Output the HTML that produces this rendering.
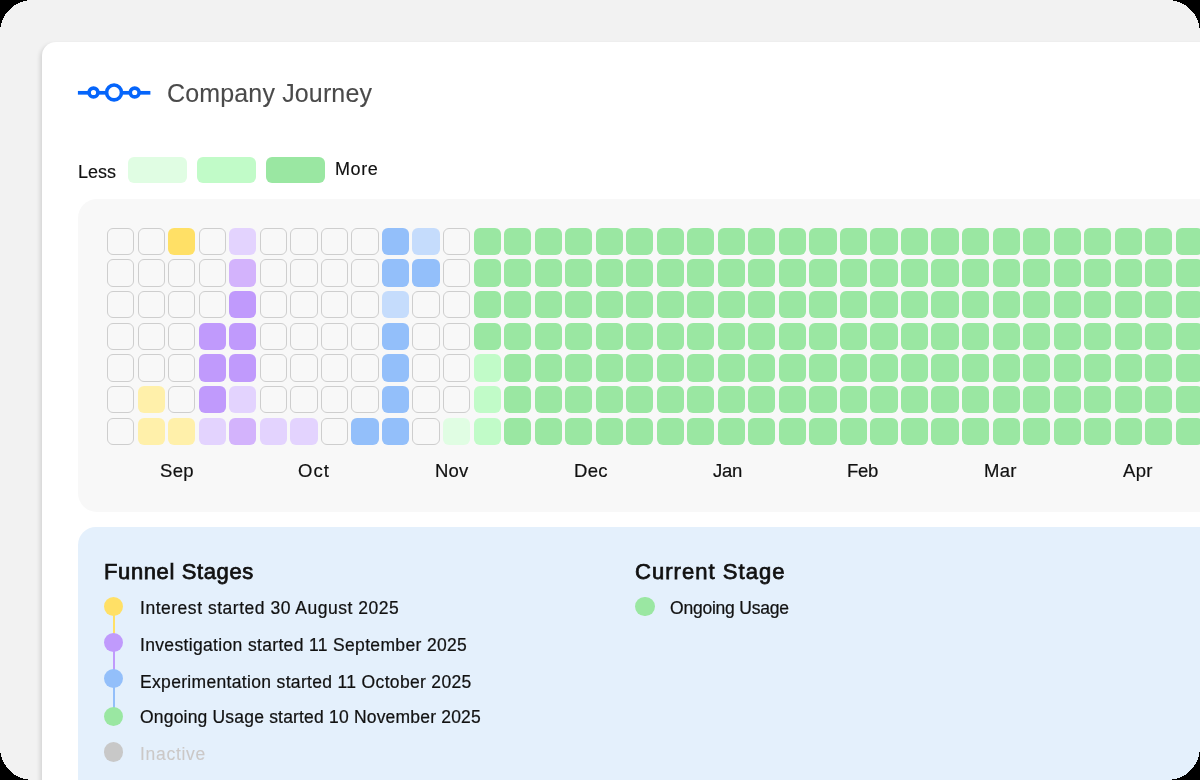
<!DOCTYPE html>
<html><head><meta charset="utf-8">
<style>
html,body{margin:0;padding:0;background:#000;}
body{width:1200px;height:780px;overflow:hidden;font-family:"Liberation Sans",sans-serif;-webkit-font-smoothing:antialiased;}
.title,.less,.more,.mon,.h,.t{will-change:transform;}
.frame{position:absolute;left:0;top:0;width:1200px;height:780px;overflow:hidden;background:#f2f2f2;}
.corners{position:absolute;left:0;top:0;z-index:10;}
.card{position:absolute;left:42px;top:42px;width:1300px;height:900px;background:#fff;border-radius:14px;box-shadow:-2px 2px 4px rgba(0,0,0,0.13);}
.logo{position:absolute;left:76px;top:80px;}
.title{position:absolute;left:166.5px;top:77.8px;font-size:25px;color:#4a4a4a;white-space:nowrap;line-height:30px;letter-spacing:0.15px;-webkit-text-stroke:0.1px #4a4a4a;}
.less,.more{position:absolute;font-size:18px;color:#111;line-height:22px;white-space:nowrap;-webkit-text-stroke:0.15px #111;}
.less{left:78px;top:161px;}
.more{left:335px;top:158px;letter-spacing:0.6px;}
.sw{position:absolute;top:157px;width:59px;height:26px;border-radius:6px;}
.grid{position:absolute;left:78px;top:199px;width:1200px;height:312.5px;background:#f8f8f8;border-radius:19px;}
.c{position:absolute;width:27.2px;height:27.2px;border-radius:6px;box-sizing:border-box;}
.c.e{border:1.8px solid #cecece;background:#f8f8f8;}
.y{background:#ffe066;} .yl{background:#fff0aa;}
.pl{background:#e3d3fe;} .pm{background:#d3b3fc;} .pd{background:#c09afc;}
.b{background:#93bffa;} .bl{background:#c5dcfc;}
.g{background:#9ae7a2;} .gl{background:#c1fbc8;} .gll{background:#e0fde3;}
.mon{position:absolute;top:260.6px;font-size:18.5px;color:#111;line-height:22px;white-space:nowrap;letter-spacing:0.3px;-webkit-text-stroke:0.2px #111;}
.panel{position:absolute;left:78px;top:527px;width:1200px;height:400px;background:#e4f0fc;border-radius:18px;}
.h{position:absolute;font-size:22px;color:#111;white-space:nowrap;line-height:26px;letter-spacing:0.5px;-webkit-text-stroke:0.75px #111;}
.dot{position:absolute;width:19.4px;height:19.4px;border-radius:50%;}
.ln{position:absolute;width:2px;}
.t{position:absolute;font-size:17.5px;color:#111;white-space:nowrap;line-height:22px;-webkit-text-stroke:0.22px #111;}
</style></head><body>
<div class="frame">
<div class="card"></div>
<svg class="logo" width="80" height="26" viewBox="0 0 80 26">
 <g fill="none" stroke="#0565fb">
  <g stroke-width="3.7">
  <line x1="1.9" y1="12.8" x2="13.5" y2="12.8"/>
  <line x1="21.5" y1="12.8" x2="31" y2="12.8"/>
  <line x1="45" y1="12.8" x2="54.5" y2="12.8"/>
  <line x1="62.7" y1="12.8" x2="74.4" y2="12.8"/>
  </g>
  <circle cx="17.5" cy="12.5" r="4.4" stroke-width="3.6"/>
  <circle cx="38.05" cy="12.45" r="7.45" stroke-width="3.6"/>
  <circle cx="58.7" cy="12.5" r="4.4" stroke-width="3.6"/>
 </g>
</svg>
<div class="title">Company Journey</div>
<div class="less">Less</div>
<div class="sw" style="left:128px;background:#e0fde3"></div>
<div class="sw" style="left:197px;background:#c1fbc8"></div>
<div class="sw" style="left:266px;background:#9ae7a2"></div>
<div class="more">More</div>
<div class="grid">
<i class="c e" style="left:29.15px;top:28.70px"></i>
<i class="c e" style="left:59.68px;top:28.70px"></i>
<i class="c y" style="left:90.21px;top:28.70px"></i>
<i class="c e" style="left:120.74px;top:28.70px"></i>
<i class="c pl" style="left:151.27px;top:28.70px"></i>
<i class="c e" style="left:181.80px;top:28.70px"></i>
<i class="c e" style="left:212.33px;top:28.70px"></i>
<i class="c e" style="left:242.86px;top:28.70px"></i>
<i class="c e" style="left:273.39px;top:28.70px"></i>
<i class="c b" style="left:303.92px;top:28.70px"></i>
<i class="c bl" style="left:334.45px;top:28.70px"></i>
<i class="c e" style="left:364.98px;top:28.70px"></i>
<i class="c g" style="left:395.51px;top:28.70px"></i>
<i class="c g" style="left:426.04px;top:28.70px"></i>
<i class="c g" style="left:456.57px;top:28.70px"></i>
<i class="c g" style="left:487.10px;top:28.70px"></i>
<i class="c g" style="left:517.63px;top:28.70px"></i>
<i class="c g" style="left:548.16px;top:28.70px"></i>
<i class="c g" style="left:578.69px;top:28.70px"></i>
<i class="c g" style="left:609.22px;top:28.70px"></i>
<i class="c g" style="left:639.75px;top:28.70px"></i>
<i class="c g" style="left:670.28px;top:28.70px"></i>
<i class="c g" style="left:700.81px;top:28.70px"></i>
<i class="c g" style="left:731.34px;top:28.70px"></i>
<i class="c g" style="left:761.87px;top:28.70px"></i>
<i class="c g" style="left:792.40px;top:28.70px"></i>
<i class="c g" style="left:822.93px;top:28.70px"></i>
<i class="c g" style="left:853.46px;top:28.70px"></i>
<i class="c g" style="left:883.99px;top:28.70px"></i>
<i class="c g" style="left:914.52px;top:28.70px"></i>
<i class="c g" style="left:945.05px;top:28.70px"></i>
<i class="c g" style="left:975.58px;top:28.70px"></i>
<i class="c g" style="left:1006.11px;top:28.70px"></i>
<i class="c g" style="left:1036.64px;top:28.70px"></i>
<i class="c g" style="left:1067.17px;top:28.70px"></i>
<i class="c g" style="left:1097.70px;top:28.70px"></i>
<i class="c g" style="left:1128.23px;top:28.70px"></i>
<i class="c e" style="left:29.15px;top:60.37px"></i>
<i class="c e" style="left:59.68px;top:60.37px"></i>
<i class="c e" style="left:90.21px;top:60.37px"></i>
<i class="c e" style="left:120.74px;top:60.37px"></i>
<i class="c pm" style="left:151.27px;top:60.37px"></i>
<i class="c e" style="left:181.80px;top:60.37px"></i>
<i class="c e" style="left:212.33px;top:60.37px"></i>
<i class="c e" style="left:242.86px;top:60.37px"></i>
<i class="c e" style="left:273.39px;top:60.37px"></i>
<i class="c b" style="left:303.92px;top:60.37px"></i>
<i class="c b" style="left:334.45px;top:60.37px"></i>
<i class="c e" style="left:364.98px;top:60.37px"></i>
<i class="c g" style="left:395.51px;top:60.37px"></i>
<i class="c g" style="left:426.04px;top:60.37px"></i>
<i class="c g" style="left:456.57px;top:60.37px"></i>
<i class="c g" style="left:487.10px;top:60.37px"></i>
<i class="c g" style="left:517.63px;top:60.37px"></i>
<i class="c g" style="left:548.16px;top:60.37px"></i>
<i class="c g" style="left:578.69px;top:60.37px"></i>
<i class="c g" style="left:609.22px;top:60.37px"></i>
<i class="c g" style="left:639.75px;top:60.37px"></i>
<i class="c g" style="left:670.28px;top:60.37px"></i>
<i class="c g" style="left:700.81px;top:60.37px"></i>
<i class="c g" style="left:731.34px;top:60.37px"></i>
<i class="c g" style="left:761.87px;top:60.37px"></i>
<i class="c g" style="left:792.40px;top:60.37px"></i>
<i class="c g" style="left:822.93px;top:60.37px"></i>
<i class="c g" style="left:853.46px;top:60.37px"></i>
<i class="c g" style="left:883.99px;top:60.37px"></i>
<i class="c g" style="left:914.52px;top:60.37px"></i>
<i class="c g" style="left:945.05px;top:60.37px"></i>
<i class="c g" style="left:975.58px;top:60.37px"></i>
<i class="c g" style="left:1006.11px;top:60.37px"></i>
<i class="c g" style="left:1036.64px;top:60.37px"></i>
<i class="c g" style="left:1067.17px;top:60.37px"></i>
<i class="c g" style="left:1097.70px;top:60.37px"></i>
<i class="c g" style="left:1128.23px;top:60.37px"></i>
<i class="c e" style="left:29.15px;top:92.04px"></i>
<i class="c e" style="left:59.68px;top:92.04px"></i>
<i class="c e" style="left:90.21px;top:92.04px"></i>
<i class="c e" style="left:120.74px;top:92.04px"></i>
<i class="c pd" style="left:151.27px;top:92.04px"></i>
<i class="c e" style="left:181.80px;top:92.04px"></i>
<i class="c e" style="left:212.33px;top:92.04px"></i>
<i class="c e" style="left:242.86px;top:92.04px"></i>
<i class="c e" style="left:273.39px;top:92.04px"></i>
<i class="c bl" style="left:303.92px;top:92.04px"></i>
<i class="c e" style="left:334.45px;top:92.04px"></i>
<i class="c e" style="left:364.98px;top:92.04px"></i>
<i class="c g" style="left:395.51px;top:92.04px"></i>
<i class="c g" style="left:426.04px;top:92.04px"></i>
<i class="c g" style="left:456.57px;top:92.04px"></i>
<i class="c g" style="left:487.10px;top:92.04px"></i>
<i class="c g" style="left:517.63px;top:92.04px"></i>
<i class="c g" style="left:548.16px;top:92.04px"></i>
<i class="c g" style="left:578.69px;top:92.04px"></i>
<i class="c g" style="left:609.22px;top:92.04px"></i>
<i class="c g" style="left:639.75px;top:92.04px"></i>
<i class="c g" style="left:670.28px;top:92.04px"></i>
<i class="c g" style="left:700.81px;top:92.04px"></i>
<i class="c g" style="left:731.34px;top:92.04px"></i>
<i class="c g" style="left:761.87px;top:92.04px"></i>
<i class="c g" style="left:792.40px;top:92.04px"></i>
<i class="c g" style="left:822.93px;top:92.04px"></i>
<i class="c g" style="left:853.46px;top:92.04px"></i>
<i class="c g" style="left:883.99px;top:92.04px"></i>
<i class="c g" style="left:914.52px;top:92.04px"></i>
<i class="c g" style="left:945.05px;top:92.04px"></i>
<i class="c g" style="left:975.58px;top:92.04px"></i>
<i class="c g" style="left:1006.11px;top:92.04px"></i>
<i class="c g" style="left:1036.64px;top:92.04px"></i>
<i class="c g" style="left:1067.17px;top:92.04px"></i>
<i class="c g" style="left:1097.70px;top:92.04px"></i>
<i class="c g" style="left:1128.23px;top:92.04px"></i>
<i class="c e" style="left:29.15px;top:123.71px"></i>
<i class="c e" style="left:59.68px;top:123.71px"></i>
<i class="c e" style="left:90.21px;top:123.71px"></i>
<i class="c pd" style="left:120.74px;top:123.71px"></i>
<i class="c pd" style="left:151.27px;top:123.71px"></i>
<i class="c e" style="left:181.80px;top:123.71px"></i>
<i class="c e" style="left:212.33px;top:123.71px"></i>
<i class="c e" style="left:242.86px;top:123.71px"></i>
<i class="c e" style="left:273.39px;top:123.71px"></i>
<i class="c b" style="left:303.92px;top:123.71px"></i>
<i class="c e" style="left:334.45px;top:123.71px"></i>
<i class="c e" style="left:364.98px;top:123.71px"></i>
<i class="c g" style="left:395.51px;top:123.71px"></i>
<i class="c g" style="left:426.04px;top:123.71px"></i>
<i class="c g" style="left:456.57px;top:123.71px"></i>
<i class="c g" style="left:487.10px;top:123.71px"></i>
<i class="c g" style="left:517.63px;top:123.71px"></i>
<i class="c g" style="left:548.16px;top:123.71px"></i>
<i class="c g" style="left:578.69px;top:123.71px"></i>
<i class="c g" style="left:609.22px;top:123.71px"></i>
<i class="c g" style="left:639.75px;top:123.71px"></i>
<i class="c g" style="left:670.28px;top:123.71px"></i>
<i class="c g" style="left:700.81px;top:123.71px"></i>
<i class="c g" style="left:731.34px;top:123.71px"></i>
<i class="c g" style="left:761.87px;top:123.71px"></i>
<i class="c g" style="left:792.40px;top:123.71px"></i>
<i class="c g" style="left:822.93px;top:123.71px"></i>
<i class="c g" style="left:853.46px;top:123.71px"></i>
<i class="c g" style="left:883.99px;top:123.71px"></i>
<i class="c g" style="left:914.52px;top:123.71px"></i>
<i class="c g" style="left:945.05px;top:123.71px"></i>
<i class="c g" style="left:975.58px;top:123.71px"></i>
<i class="c g" style="left:1006.11px;top:123.71px"></i>
<i class="c g" style="left:1036.64px;top:123.71px"></i>
<i class="c g" style="left:1067.17px;top:123.71px"></i>
<i class="c g" style="left:1097.70px;top:123.71px"></i>
<i class="c g" style="left:1128.23px;top:123.71px"></i>
<i class="c e" style="left:29.15px;top:155.38px"></i>
<i class="c e" style="left:59.68px;top:155.38px"></i>
<i class="c e" style="left:90.21px;top:155.38px"></i>
<i class="c pd" style="left:120.74px;top:155.38px"></i>
<i class="c pd" style="left:151.27px;top:155.38px"></i>
<i class="c e" style="left:181.80px;top:155.38px"></i>
<i class="c e" style="left:212.33px;top:155.38px"></i>
<i class="c e" style="left:242.86px;top:155.38px"></i>
<i class="c e" style="left:273.39px;top:155.38px"></i>
<i class="c b" style="left:303.92px;top:155.38px"></i>
<i class="c e" style="left:334.45px;top:155.38px"></i>
<i class="c e" style="left:364.98px;top:155.38px"></i>
<i class="c gl" style="left:395.51px;top:155.38px"></i>
<i class="c g" style="left:426.04px;top:155.38px"></i>
<i class="c g" style="left:456.57px;top:155.38px"></i>
<i class="c g" style="left:487.10px;top:155.38px"></i>
<i class="c g" style="left:517.63px;top:155.38px"></i>
<i class="c g" style="left:548.16px;top:155.38px"></i>
<i class="c g" style="left:578.69px;top:155.38px"></i>
<i class="c g" style="left:609.22px;top:155.38px"></i>
<i class="c g" style="left:639.75px;top:155.38px"></i>
<i class="c g" style="left:670.28px;top:155.38px"></i>
<i class="c g" style="left:700.81px;top:155.38px"></i>
<i class="c g" style="left:731.34px;top:155.38px"></i>
<i class="c g" style="left:761.87px;top:155.38px"></i>
<i class="c g" style="left:792.40px;top:155.38px"></i>
<i class="c g" style="left:822.93px;top:155.38px"></i>
<i class="c g" style="left:853.46px;top:155.38px"></i>
<i class="c g" style="left:883.99px;top:155.38px"></i>
<i class="c g" style="left:914.52px;top:155.38px"></i>
<i class="c g" style="left:945.05px;top:155.38px"></i>
<i class="c g" style="left:975.58px;top:155.38px"></i>
<i class="c g" style="left:1006.11px;top:155.38px"></i>
<i class="c g" style="left:1036.64px;top:155.38px"></i>
<i class="c g" style="left:1067.17px;top:155.38px"></i>
<i class="c g" style="left:1097.70px;top:155.38px"></i>
<i class="c g" style="left:1128.23px;top:155.38px"></i>
<i class="c e" style="left:29.15px;top:187.05px"></i>
<i class="c yl" style="left:59.68px;top:187.05px"></i>
<i class="c e" style="left:90.21px;top:187.05px"></i>
<i class="c pd" style="left:120.74px;top:187.05px"></i>
<i class="c pl" style="left:151.27px;top:187.05px"></i>
<i class="c e" style="left:181.80px;top:187.05px"></i>
<i class="c e" style="left:212.33px;top:187.05px"></i>
<i class="c e" style="left:242.86px;top:187.05px"></i>
<i class="c e" style="left:273.39px;top:187.05px"></i>
<i class="c b" style="left:303.92px;top:187.05px"></i>
<i class="c e" style="left:334.45px;top:187.05px"></i>
<i class="c e" style="left:364.98px;top:187.05px"></i>
<i class="c gl" style="left:395.51px;top:187.05px"></i>
<i class="c g" style="left:426.04px;top:187.05px"></i>
<i class="c g" style="left:456.57px;top:187.05px"></i>
<i class="c g" style="left:487.10px;top:187.05px"></i>
<i class="c g" style="left:517.63px;top:187.05px"></i>
<i class="c g" style="left:548.16px;top:187.05px"></i>
<i class="c g" style="left:578.69px;top:187.05px"></i>
<i class="c g" style="left:609.22px;top:187.05px"></i>
<i class="c g" style="left:639.75px;top:187.05px"></i>
<i class="c g" style="left:670.28px;top:187.05px"></i>
<i class="c g" style="left:700.81px;top:187.05px"></i>
<i class="c g" style="left:731.34px;top:187.05px"></i>
<i class="c g" style="left:761.87px;top:187.05px"></i>
<i class="c g" style="left:792.40px;top:187.05px"></i>
<i class="c g" style="left:822.93px;top:187.05px"></i>
<i class="c g" style="left:853.46px;top:187.05px"></i>
<i class="c g" style="left:883.99px;top:187.05px"></i>
<i class="c g" style="left:914.52px;top:187.05px"></i>
<i class="c g" style="left:945.05px;top:187.05px"></i>
<i class="c g" style="left:975.58px;top:187.05px"></i>
<i class="c g" style="left:1006.11px;top:187.05px"></i>
<i class="c g" style="left:1036.64px;top:187.05px"></i>
<i class="c g" style="left:1067.17px;top:187.05px"></i>
<i class="c g" style="left:1097.70px;top:187.05px"></i>
<i class="c g" style="left:1128.23px;top:187.05px"></i>
<i class="c e" style="left:29.15px;top:218.72px"></i>
<i class="c yl" style="left:59.68px;top:218.72px"></i>
<i class="c yl" style="left:90.21px;top:218.72px"></i>
<i class="c pl" style="left:120.74px;top:218.72px"></i>
<i class="c pm" style="left:151.27px;top:218.72px"></i>
<i class="c pl" style="left:181.80px;top:218.72px"></i>
<i class="c pl" style="left:212.33px;top:218.72px"></i>
<i class="c e" style="left:242.86px;top:218.72px"></i>
<i class="c b" style="left:273.39px;top:218.72px"></i>
<i class="c b" style="left:303.92px;top:218.72px"></i>
<i class="c e" style="left:334.45px;top:218.72px"></i>
<i class="c gll" style="left:364.98px;top:218.72px"></i>
<i class="c gl" style="left:395.51px;top:218.72px"></i>
<i class="c g" style="left:426.04px;top:218.72px"></i>
<i class="c g" style="left:456.57px;top:218.72px"></i>
<i class="c g" style="left:487.10px;top:218.72px"></i>
<i class="c g" style="left:517.63px;top:218.72px"></i>
<i class="c g" style="left:548.16px;top:218.72px"></i>
<i class="c g" style="left:578.69px;top:218.72px"></i>
<i class="c g" style="left:609.22px;top:218.72px"></i>
<i class="c g" style="left:639.75px;top:218.72px"></i>
<i class="c g" style="left:670.28px;top:218.72px"></i>
<i class="c g" style="left:700.81px;top:218.72px"></i>
<i class="c g" style="left:731.34px;top:218.72px"></i>
<i class="c g" style="left:761.87px;top:218.72px"></i>
<i class="c g" style="left:792.40px;top:218.72px"></i>
<i class="c g" style="left:822.93px;top:218.72px"></i>
<i class="c g" style="left:853.46px;top:218.72px"></i>
<i class="c g" style="left:883.99px;top:218.72px"></i>
<i class="c g" style="left:914.52px;top:218.72px"></i>
<i class="c g" style="left:945.05px;top:218.72px"></i>
<i class="c g" style="left:975.58px;top:218.72px"></i>
<i class="c g" style="left:1006.11px;top:218.72px"></i>
<i class="c g" style="left:1036.64px;top:218.72px"></i>
<i class="c g" style="left:1067.17px;top:218.72px"></i>
<i class="c g" style="left:1097.70px;top:218.72px"></i>
<i class="c g" style="left:1128.23px;top:218.72px"></i>
<div class="mon" style="left:81.5px">Sep</div>
<div class="mon" style="left:219.5px;letter-spacing:1.1px">Oct</div>
<div class="mon" style="left:357px;letter-spacing:0.2px">Nov</div>
<div class="mon" style="left:495.5px">Dec</div>
<div class="mon" style="left:634.5px;letter-spacing:-0.3px">Jan</div>
<div class="mon" style="left:769px;letter-spacing:-0.3px">Feb</div>
<div class="mon" style="left:905.5px">Mar</div>
<div class="mon" style="left:1045px">Apr</div>
</div>
<div class="panel">
<div class="h" style="left:26px;top:32px;letter-spacing:0.62px">Funnel Stages</div>
<div class="ln" style="left:34.6px;top:88px;height:28px;background:#ffe066"></div>
<div class="ln" style="left:34.6px;top:124px;height:28px;background:#c09afc"></div>
<div class="ln" style="left:34.6px;top:160px;height:30px;background:#93bffa"></div>
<div class="dot" style="left:25.90px;top:69.90px;background:#ffe066"></div>
<div class="dot" style="left:25.90px;top:105.50px;background:#c09afc"></div>
<div class="dot" style="left:25.90px;top:141.80px;background:#93bffa"></div>
<div class="dot" style="left:25.90px;top:179.60px;background:#9ae7a2"></div>
<div class="dot" style="left:25.90px;top:215.40px;background:#c8c8c8"></div>
<div class="t" style="left:62px;top:70px;letter-spacing:0.52px">Interest started 30 August 2025</div>
<div class="t" style="left:62px;top:107px;letter-spacing:0.34px">Investigation started 11 September 2025</div>
<div class="t" style="left:62px;top:144px;letter-spacing:0.33px">Experimentation started 11 October 2025</div>
<div class="t" style="left:62px;top:179px;letter-spacing:0.19px">Ongoing Usage started 10 November 2025</div>
<div class="t" style="left:62px;top:216px;color:#cbc8c7;-webkit-text-stroke:0.1px #cbc8c7;letter-spacing:0.7px">Inactive</div>
<div class="h" style="left:557px;top:32px;letter-spacing:1.05px">Current Stage</div>
<div class="dot" style="left:557.3px;top:70.05px;background:#9ae7a2"></div>
<div class="t" style="left:592px;top:70px;letter-spacing:-0.22px">Ongoing Usage</div>
</div>
</div>
<svg class="corners" width="1200" height="780" viewBox="0 0 1200 780" shape-rendering="crispEdges"><path fill="#000" d="M0,0H32.5A32.5,32.5 0 0 0 0,32.5Z M1200,0V32.5A32.5,32.5 0 0 0 1167.5,0Z M1200,780H1167.5A32.5,32.5 0 0 0 1200,747.5Z M0,780V747.5A32.5,32.5 0 0 0 32.5,780Z"/></svg>
</body></html>
